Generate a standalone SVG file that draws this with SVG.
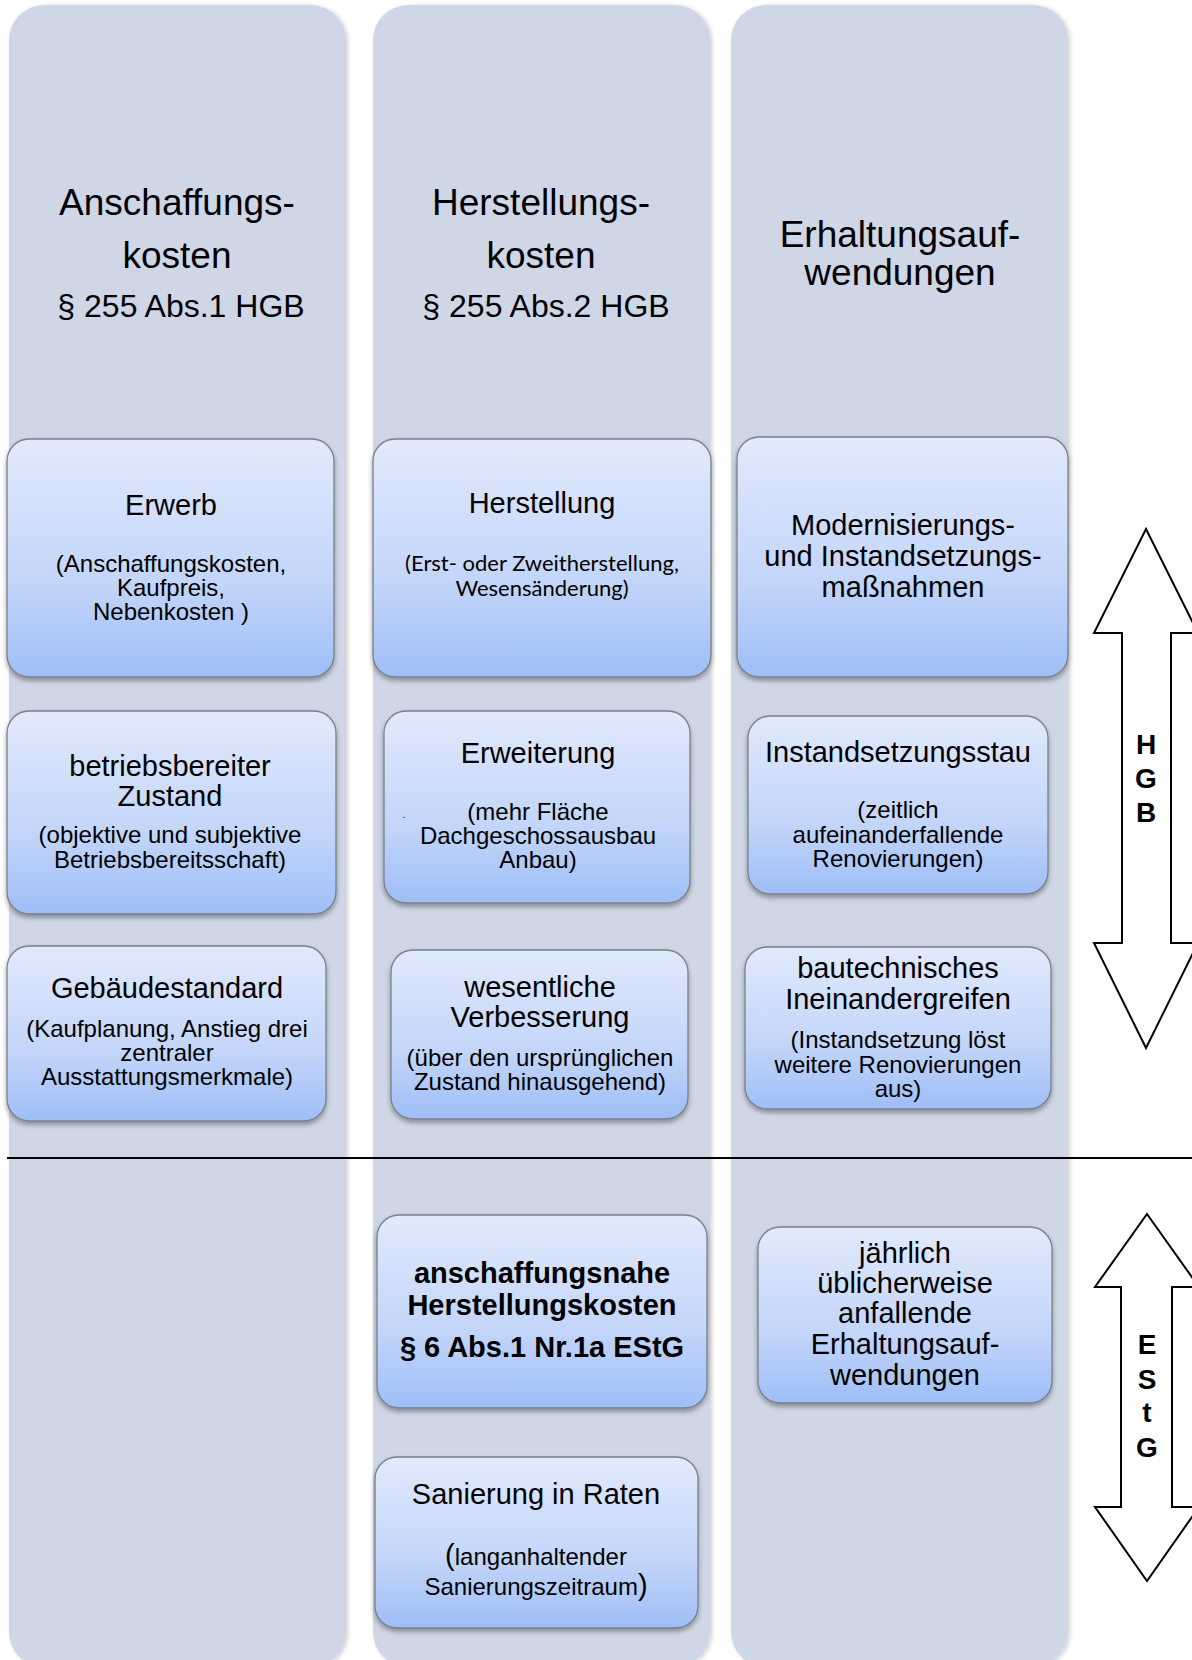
<svg xmlns="http://www.w3.org/2000/svg" width="1192" height="1660" viewBox="0 0 1192 1660">
<defs>
<linearGradient id="bg" x1="0" y1="0" x2="0" y2="1">
<stop offset="0" stop-color="#E1EAFC"/>
<stop offset="0.6" stop-color="#C3D5F9"/>
<stop offset="1" stop-color="#9EBEF7"/>
</linearGradient>
<filter id="sh" x="-10%" y="-10%" width="120%" height="130%">
<feDropShadow dx="0" dy="3" stdDeviation="2.5" flood-color="#000" flood-opacity="0.35"/>
</filter>
<filter id="csh" x="-5%" y="-5%" width="110%" height="110%">
<feDropShadow dx="2" dy="1" stdDeviation="2" flood-color="#000" flood-opacity="0.18"/>
</filter>
<style>
.col{fill:#CFD7E6;filter:url(#csh)}
.box{fill:url(#bg);stroke:#7A7F88;stroke-width:1.3;filter:url(#sh)}
text{font-family:"Liberation Sans",Arial,sans-serif;fill:#000;text-anchor:middle}
.t{font-size:37px}
.t2{font-size:32px}
.h{font-size:29px}
.s{font-size:24px}
.c{font-family:Lato,"Open Sans",sans-serif;font-size:22px}
.b{font-size:29px;font-weight:bold}
.lt{font-size:28px;font-weight:bold}
.arr{fill:#fff;stroke:#000;stroke-width:2;stroke-linejoin:miter}
</style>
</defs>
<g id="columns">
<rect class="col" x="9" y="5" width="337" height="1662" rx="35"/>
<rect class="col" x="373" y="5" width="337" height="1662" rx="35"/>
<rect class="col" x="731" y="5" width="337" height="1662" rx="35"/>
</g>
<g id="col-anschaffung-title">
<text class="t" x="177" y="215">Anschaffungs-</text>
<text class="t" x="177" y="268">kosten</text>
<text class="t2" x="181" y="317">§ 255 Abs.1 HGB</text>
</g>
<g id="col-herstellung-title">
<text class="t" x="541" y="215">Herstellungs-</text>
<text class="t" x="541" y="268">kosten</text>
<text class="t2" x="546" y="317">§ 255 Abs.2 HGB</text>
</g>
<g id="col-erhaltung-title">
<text class="t" x="900" y="247">Erhaltungsauf-</text>
<text class="t" x="900" y="285">wendungen</text>
</g>
<g id="erwerb">
<rect class="box" x="7" y="439" width="327" height="238" rx="22"/>
<text class="h" x="171" y="515">Erwerb</text>
<text class="s" x="171" y="572">(Anschaffungskosten,</text>
<text class="s" x="171" y="596">Kaufpreis,</text>
<text class="s" x="171" y="620">Nebenkosten )</text>
</g>
<g id="herstellung">
<rect class="box" x="373" y="439" width="338" height="238" rx="22"/>
<text class="h" x="542" y="513">Herstellung</text>
<text class="c" x="542" y="571">(Erst- oder Zweitherstellung,</text>
<text class="c" x="542" y="596">Wesensänderung)</text>
</g>
<g id="modernisierung">
<rect class="box" x="737" y="437" width="331" height="240" rx="22"/>
<text class="h" x="903" y="535">Modernisierungs-</text>
<text class="h" x="903" y="566">und Instandsetzungs-</text>
<text class="h" x="903" y="597">maßnahmen</text>
</g>
<g id="betriebsbereit">
<rect class="box" x="7" y="711" width="329" height="203" rx="22"/>
<text class="h" x="170" y="776">betriebsbereiter</text>
<text class="h" x="170" y="806">Zustand</text>
<text class="s" x="170" y="843">(objektive und subjektive</text>
<text class="s" x="170" y="868">Betriebsbereitsschaft)</text>
</g>
<g id="erweiterung">
<rect class="box" x="384" y="711" width="306" height="192" rx="22"/>
<text class="h" x="538" y="763">Erweiterung</text>
<text x="404" y="818" style="font-size:10px">.</text>
<text class="s" x="538" y="820">(mehr Fläche</text>
<text class="s" x="538" y="844">Dachgeschossausbau</text>
<text class="s" x="538" y="868">Anbau)</text>
</g>
<g id="instandsetzungsstau">
<rect class="box" x="748" y="716" width="300" height="178" rx="22"/>
<text class="h" x="898" y="762">Instandsetzungsstau</text>
<text class="s" x="898" y="818">(zeitlich</text>
<text class="s" x="898" y="843">aufeinanderfallende</text>
<text class="s" x="898" y="867">Renovierungen)</text>
</g>
<g id="gebaeudestandard">
<rect class="box" x="7" y="946" width="319" height="175" rx="22"/>
<text class="h" x="167" y="998">Gebäudestandard</text>
<text class="s" x="167" y="1037">(Kaufplanung, Anstieg drei</text>
<text class="s" x="167" y="1061">zentraler</text>
<text class="s" x="167" y="1085">Ausstattungsmerkmale)</text>
</g>
<g id="wesentliche-verbesserung">
<rect class="box" x="391" y="950" width="297" height="169" rx="22"/>
<text class="h" x="540" y="997">wesentliche</text>
<text class="h" x="540" y="1027">Verbesserung</text>
<text class="s" x="540" y="1066">(über den ursprünglichen</text>
<text class="s" x="540" y="1090">Zustand hinausgehend)</text>
</g>
<g id="bautechnisches">
<rect class="box" x="745" y="947" width="306" height="162" rx="22"/>
<text class="h" x="898" y="978">bautechnisches</text>
<text class="h" x="898" y="1009">Ineinandergreifen</text>
<text class="s" x="898" y="1048">(Instandsetzung löst</text>
<text class="s" x="898" y="1073">weitere Renovierungen</text>
<text class="s" x="898" y="1097">aus)</text>
</g>
<g id="anschaffungsnahe">
<rect class="box" x="377" y="1215" width="330" height="193" rx="22"/>
<text class="b" x="542" y="1283">anschaffungsnahe</text>
<text class="b" x="542" y="1315">Herstellungskosten</text>
<text class="b" x="542" y="1357">§ 6 Abs.1 Nr.1a EStG</text>
</g>
<g id="sanierung">
<rect class="box" x="375" y="1457" width="323" height="171" rx="22"/>
<text class="h" x="536" y="1504">Sanierung in Raten</text>
<text class="s" x="536" y="1565"><tspan style="font-size:29px">(</tspan>langanhaltender</text>
<text class="s" x="536" y="1595">Sanierungszeitraum<tspan style="font-size:29px">)</tspan></text>
</g>
<g id="jaehrlich">
<rect class="box" x="758" y="1227" width="294" height="176" rx="22"/>
<text class="h" x="905" y="1263">jährlich</text>
<text class="h" x="905" y="1293">üblicherweise</text>
<text class="h" x="905" y="1323">anfallende</text>
<text class="h" x="905" y="1354">Erhaltungsauf-</text>
<text class="h" x="905" y="1385">wendungen</text>
</g>
<g id="connectors">
<line x1="7" y1="1158" x2="1192" y2="1158" stroke="#000" stroke-width="2"/>
</g>
<g id="hgb-arrow">
<polygon class="arr" points="1146,529 1198,633 1171,633 1171,943 1198,943 1146,1048 1094,943 1122,943 1122,633 1094,633"/>
<text class="lt" x="1146" y="754">H</text>
<text class="lt" x="1146" y="788">G</text>
<text class="lt" x="1146" y="822">B</text>
</g>
<g id="estg-arrow">
<polygon class="arr" points="1147,1214 1199,1287 1172,1287 1172,1507 1199,1507 1147,1581 1095,1507 1121,1507 1121,1287 1095,1287"/>
<text class="lt" x="1147" y="1354">E</text>
<text class="lt" x="1147" y="1389">S</text>
<text class="lt" x="1147" y="1422">t</text>
<text class="lt" x="1147" y="1457">G</text>
</g>
</svg>
